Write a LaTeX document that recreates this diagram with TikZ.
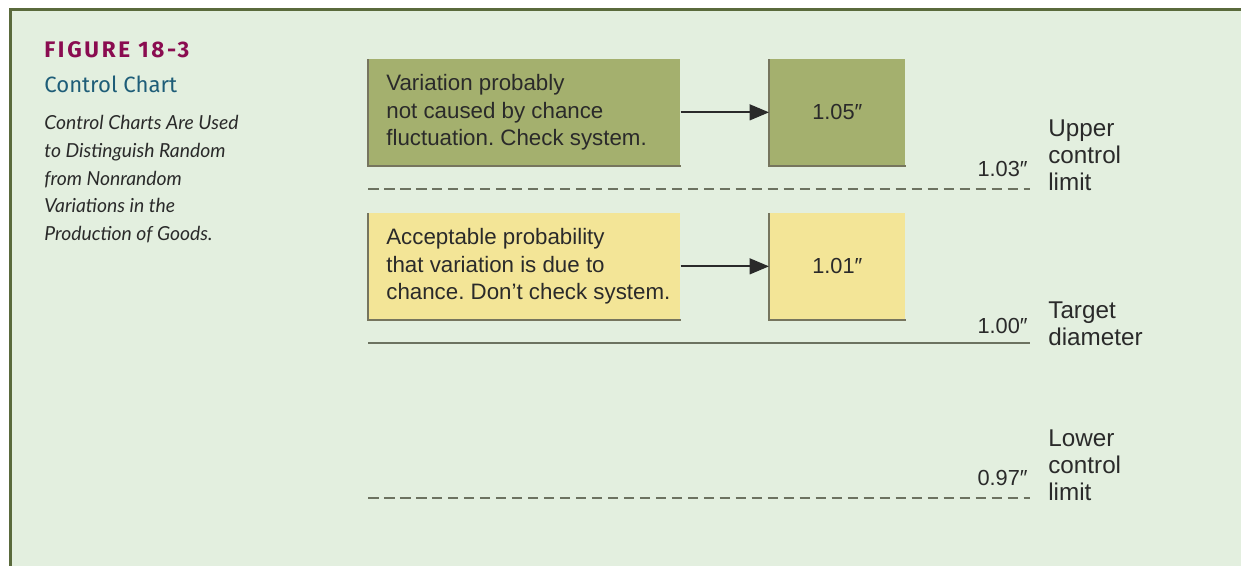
\documentclass[tikz,border=0pt]{standalone}
\usepackage{fontspec}
\setmainfont{Liberation Sans}
\newfontfamily\FigNumFont[LetterSpace=12]{Fira Sans}
\newfontfamily\FigTitleFont{Fira Sans}
\newfontfamily\FigCaptionFont{Lato}
\usetikzlibrary{positioning}
\usetikzlibrary{arrows.meta}
\definecolor{panel}{HTML}{E3EFDF}
\definecolor{frame}{HTML}{5A6A3C}
\definecolor{outofcontrol}{HTML}{A4B06E}
\definecolor{incontrol}{HTML}{F3E597}
\definecolor{boxedge}{HTML}{76755E}
\definecolor{limitline}{HTML}{6C7260}
\definecolor{fignum}{HTML}{8A0C50}
\definecolor{figtitle}{HTML}{1E5D78}
\definecolor{ink}{HTML}{2A2A2A}
\frenchspacing

\begin{document}
\begin{tikzpicture}[x=0.02cm, y=-0.02cm, >={Triangle[length=11pt, width=9pt]},
reason/.style={fill=#1, minimum width=6.24cm, minimum height=2.12cm, anchor=north west},
reasontext/.style={inner sep=0, align=left, text=ink, font=\fontsize{12.7}{15.6}\selectfont},
reading/.style={fill=#1, minimum width=2.72cm, minimum height=2.12cm, anchor=north west,
  text=ink, font=\fontsize{12.4}{15.6}\selectfont},
limit/.style={limitline, line width=0.8pt},
limitvalue/.style={anchor=base east, inner sep=0, text=ink, font=\fontsize{12.4}{13}\selectfont},
limitname/.style={anchor=north west, inner sep=0, align=left, text=ink,
  font=\fontsize{13.8}{15.4}\selectfont},
caption/.style={anchor=base west, inner sep=0},
]
\useasboundingbox (0,0) rectangle (1241,566);

%%%%%%%%%%%%%%%% PANEL %%%%%%%%%%%%%%%%
\fill[panel] (9,8) rectangle (1241,566);
\draw[frame, line width=1.7pt] (9,9.5) -- (1241,9.5);
\draw[frame, line width=1.7pt] (10.5,8) -- (10.5,566);

%%%%%%%%%%%%%%%% CAPTION %%%%%%%%%%%%%%%%
\node[caption, text=fignum, font=\FigNumFont\fontsize{12.8}{14}\selectfont\bfseries] (fignum) at (44,57) {FIGURE 18-3};
\node[caption, text=figtitle, font=\FigTitleFont\fontsize{12.6}{14}\selectfont] (figtitle) at (44,92) {Control Chart};
\node[anchor=north west, inner sep=0, align=left, text=ink,
  font=\FigCaptionFont\itshape\fontsize{11}{15.8}\selectfont] (figtext) at (44,115)
  {Control Charts Are Used\\ to Distinguish Random\\ from Nonrandom\\ Variations in the\\ Production of Goods.};

%%%%%%%%%%%%%%%% BOXES %%%%%%%%%%%%%%%%
\node[reason=outofcontrol] (outcause) at (368,59) {};
\node[reasontext, right=0.36cm of outcause.west] (outtext)
  {Variation probably\\ not caused by chance\\ fluctuation. Check system.};
\node[reading=outofcontrol] (outvalue) at (769,59) {1.05″};

\node[reason=incontrol] (incause) at (368,213) {};
\node[reasontext, right=0.36cm of incause.west] (intext)
  {Acceptable probability\\ that variation is due to\\ chance. Don’t check system.};
\node[reading=incontrol] (invalue) at (769,213) {1.01″};

% shaded left and bottom edges
\foreach \b in {outcause, outvalue, incause, invalue}
  \draw[boxedge, line width=1.1pt] (\b.north west) -- (\b.south west) -- (\b.south east);

\draw[->, ink, line width=1pt] (outcause.east) -- (outvalue.west);
\draw[->, ink, line width=1pt] (incause.east) -- (invalue.west);

%%%%%%%%%%%%%%%% LIMITS %%%%%%%%%%%%%%%%
\coordinate (UCLstart) at (368,189);
\coordinate (UCLend) at (1030,189);
\coordinate (CLstart) at (368,343);
\coordinate (CLend) at (1030,343);
\coordinate (LCLstart) at (368,498);
\coordinate (LCLend) at (1030,498);

\draw[limit, dash pattern=on 6pt off 3.1pt] (UCLstart) -- (UCLend);
\draw[limit] (CLstart) -- (CLend);
\draw[limit, dash pattern=on 6pt off 3.1pt] (LCLstart) -- (LCLend);

\node[limitvalue] (ucl) at (1028,176) {1.03″};
\node[limitvalue] (cl) at (1028,333) {1.00″};
\node[limitvalue] (lcl) at (1028,485) {0.97″};

\node[limitname] (uclname) at (1048,119) {Upper\\ control\\ limit};
\node[limitname] (clname) at (1048,301) {Target\\ diameter};
\node[limitname] (lclname) at (1048,429) {Lower\\ control\\ limit};

\end{tikzpicture}
\end{document}
